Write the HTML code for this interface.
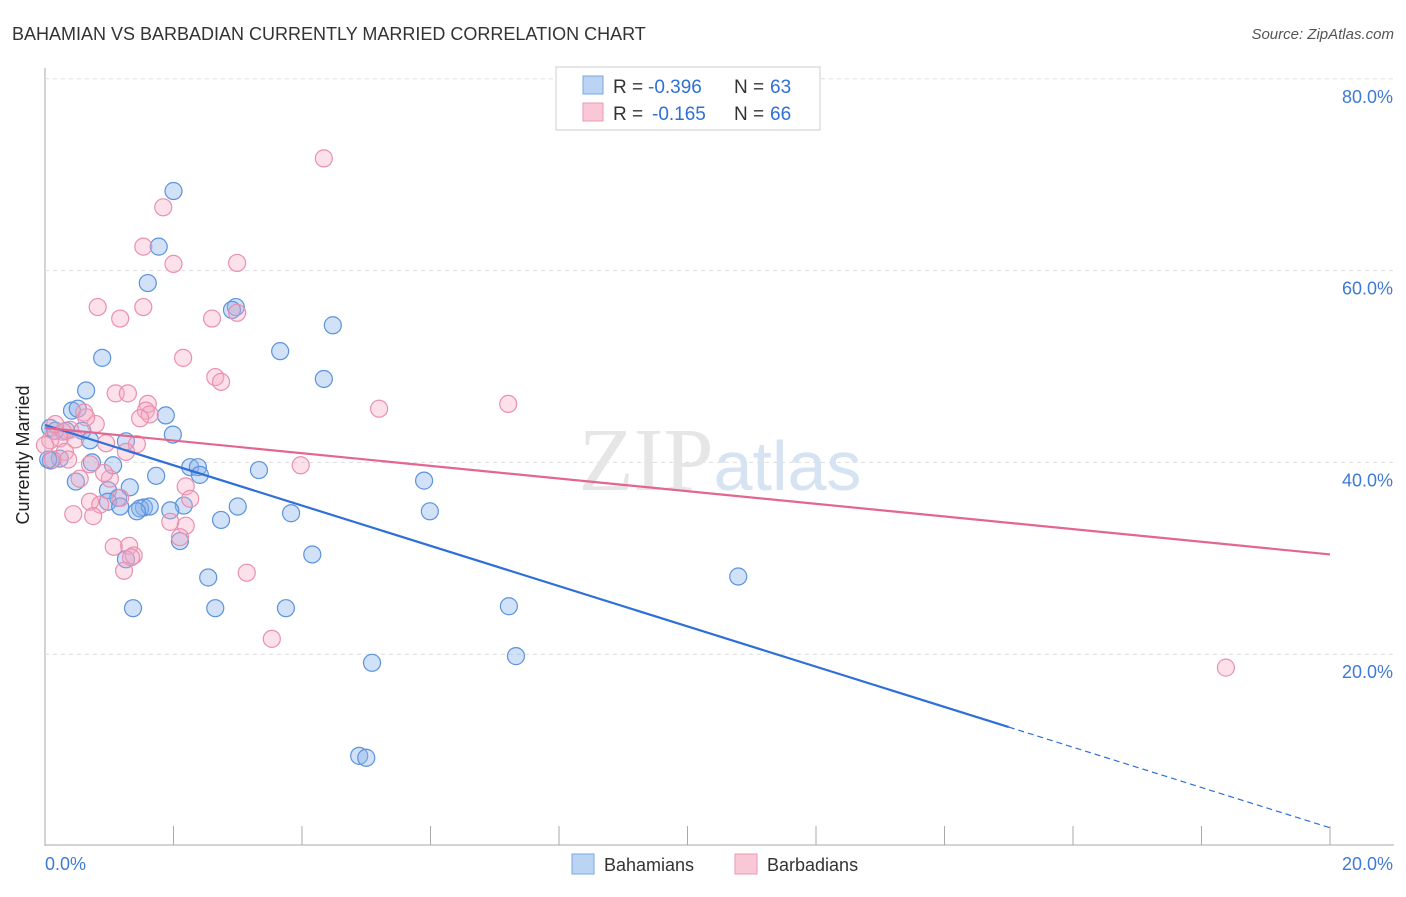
<!DOCTYPE html>
<html><head><meta charset="utf-8"><style>
body{margin:0;background:#fff;font-family:"Liberation Sans",sans-serif;}
</style></head><body>
<svg id="c" width="1406" height="892" xmlns="http://www.w3.org/2000/svg">
<text x="12" y="40" font-size="18" fill="#333">BAHAMIAN VS BARBADIAN CURRENTLY MARRIED CORRELATION CHART</text>
<text x="1394" y="39" font-size="15" fill="#555" font-style="italic" text-anchor="end">Source: ZipAtlas.com</text>
<text x="29" y="455" font-size="18" fill="#222" text-anchor="middle" transform="rotate(-90 29 455)">Currently Married</text>
<g id="grid"></g>
<text x="720" y="490" font-size="90" fill="#e6e6e6" text-anchor="middle" font-family="Liberation Serif,serif">ZIP<tspan fill="#d6e3f3" font-family="Liberation Sans,sans-serif" font-size="70">atlas</tspan></text>
<g id="pts"></g>
<g id="lines"></g>
<g>
<rect x="556" y="67" width="264" height="63" fill="#fff" stroke="#ccc"/>
<rect x="583" y="76" width="20" height="18" fill="#bcd4f3" stroke="#7aa6e0"/>
<rect x="583" y="103" width="20" height="18" fill="#f9c8d6" stroke="#ee97b1"/>
<text x="613" y="93" font-size="19" fill="#333">R =</text>
<text x="648" y="93" font-size="19" fill="#2f6fd8">-0.396</text>
<text x="734" y="93" font-size="19" fill="#333">N =</text>
<text x="770" y="93" font-size="19" fill="#2f6fd8">63</text>
<text x="613" y="120" font-size="19" fill="#333">R =</text>
<text x="652" y="120" font-size="19" fill="#2f6fd8">-0.165</text>
<text x="734" y="120" font-size="19" fill="#333">N =</text>
<text x="770" y="120" font-size="19" fill="#2f6fd8">66</text>
</g>
<g>
<rect x="572" y="854" width="22" height="20" fill="#bcd4f3" stroke="#7aa6e0"/>
<text x="604" y="871" font-size="18" fill="#333">Bahamians</text>
<rect x="735" y="854" width="22" height="20" fill="#f9c8d6" stroke="#ee97b1"/>
<text x="767" y="871" font-size="18" fill="#333">Barbadians</text>
</g>
<text x="45" y="870" font-size="18" fill="#3f7ad6">0.0%</text>
<text x="1393" y="870" font-size="18" fill="#3f7ad6" text-anchor="end">20.0%</text>
</svg>
<script>
const yTicks=[80,60,40,20];
const xTicks=[0,2,4,6,8,10,12,14,16,18,20];
const blueX=[2.0,1.77,1.6,2.97,2.91,4.48,3.66,0.89,4.34,0.64,0.42,0.51,1.88,1.99,0.08,0.16,0.33,0.58,0.7,1.26,0.23,0.09,0.73,1.06,2.26,2.38,2.41,1.73,3.33,5.9,0.48,1.32,0.98,1.14,1.54,3.83,5.99,0.98,1.17,1.48,1.63,2.16,3.0,1.43,1.95,2.74,2.1,4.16,1.26,2.54,10.79,1.37,2.65,3.75,7.22,5.09,7.33,4.89,5.0,0.05];
const blueY=[68.3,62.5,58.7,56.2,55.9,54.3,51.6,50.9,48.7,47.5,45.4,45.6,44.9,42.9,43.6,43.3,43.3,43.3,42.3,42.2,40.4,40.2,40.0,39.7,39.5,39.5,38.7,38.6,39.2,38.1,38.0,37.4,37.1,36.3,35.3,34.7,34.9,35.9,35.4,35.2,35.4,35.5,35.4,34.9,35.0,34.0,31.8,30.4,29.9,28.0,28.1,24.8,24.8,24.8,25.0,19.1,19.8,9.4,9.2,40.3];
const pinkX=[4.34,1.84,1.53,2.0,2.99,0.82,1.53,1.17,2.6,2.99,2.15,2.65,2.74,1.1,1.29,1.6,1.57,1.63,5.2,7.21,0.61,1.48,0.79,0.64,0.39,0.28,0.23,0.47,0.95,1.43,1.26,0.31,0.12,0.36,0.7,0.54,1.01,3.98,2.19,0.7,0.86,1.17,2.26,0.44,0.75,1.95,2.19,2.1,1.07,1.31,1.38,1.34,1.23,3.14,3.53,18.38,0.08,0.0,0.16,0.92];
const pinkY=[71.7,66.6,62.5,60.7,60.8,56.2,56.2,55.0,55.0,55.6,50.9,48.9,48.4,47.2,47.2,46.1,45.4,45.0,45.6,46.1,45.2,44.6,44.0,44.7,43.4,43.2,42.5,42.4,42.0,41.9,41.1,41.1,40.3,40.3,39.8,38.3,38.3,39.7,37.5,35.9,35.6,36.3,36.2,34.6,34.4,33.8,33.4,32.2,31.2,31.3,30.3,30.1,28.7,28.5,21.6,18.6,42.3,41.8,44.0,38.9];
const blueLine=[43.9,1.9];
const pinkLine=[43.6,30.4];
const X=v=>45+v*64.25, Y=v=>846-v*9.59;
const NS="http://www.w3.org/2000/svg";
function mk(t,a,p){const e=document.createElementNS(NS,t);for(const k in a)e.setAttribute(k,a[k]);p.appendChild(e);return e;}
const grid=document.getElementById('grid');
mk('line',{x1:45,y1:68,x2:45,y2:846,stroke:'#aaa'},grid);
mk('line',{x1:45,y1:845,x2:1394,y2:845,stroke:'#aaa'},grid);
yTicks.forEach(v=>{
 const l=mk('line',{x1:45,y1:Y(v),x2:1394,y2:Y(v),stroke:'#ddd','stroke-dasharray':'4,4'},grid);
 
 
 const t=mk('text',{x:1393,y:Y(v)+24,'font-size':18,fill:'#3f7ad6','text-anchor':'end'},grid);
 t.textContent=v.toFixed(1)+'%';
 
 
});
xTicks.forEach(v=>{
 const l=mk('line',{x1:X(v),y1:826,x2:X(v),y2:845,stroke:'#aaa'},grid);
 
 
});
const pts=document.getElementById('pts');
blueX.forEach((v,i)=>{
 const c=mk('circle',{cx:X(v),cy:Y(blueY[i]),r:8.5,fill:'rgba(140,180,235,0.4)',stroke:'#5b93dc','stroke-width':1.2},pts);
 
 
});
pinkX.forEach((v,i)=>{
 const c=mk('circle',{cx:X(v),cy:Y(pinkY[i]),r:8.5,fill:'rgba(245,170,195,0.35)',stroke:'#eb8fae','stroke-width':1.2},pts);
 
 
});
const ln=document.getElementById('lines');
const bAt=x=>blueLine[0]+(blueLine[1]-blueLine[0])*x/20;
let l1=mk('line',{x1:X(0),y1:Y(bAt(0)),x2:X(15),y2:Y(bAt(15)),stroke:'#2f6fd8','stroke-width':2.2},ln);


let l2=mk('line',{x1:X(15),y1:Y(bAt(15)),x2:X(20),y2:Y(bAt(20)),stroke:'#2f6fd8','stroke-width':1.2,'stroke-dasharray':'6,4'},ln);


let l3=mk('line',{x1:X(0),y1:Y(pinkLine[0]),x2:X(20),y2:Y(pinkLine[1]),stroke:'#e2668f','stroke-width':2.2},ln);


</script>
</body></html>
